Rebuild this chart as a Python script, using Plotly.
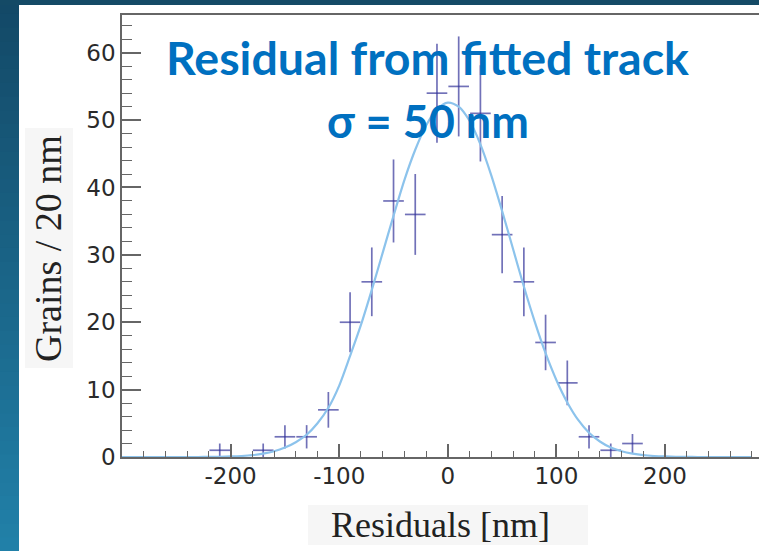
import plotly.graph_objects as go

# ---------------- data ----------------
bin_centers = [-210, -170, -150, -130, -110, -90, -70, -50, -30, -10,
               10, 30, 50, 70, 90, 110, 130, 150, 170]
counts = [1, 1, 3, 3, 7, 20, 26, 38, 36, 54,
          55, 51, 33, 26, 17, 11, 3, 1, 2]
count_errors = [1.0, 1.0, 1.73, 1.73, 2.65, 4.47, 5.10, 6.16, 6.0, 7.35,
                7.42, 7.14, 5.74, 5.10, 4.12, 3.32, 1.73, 1.0, 1.41]
bin_half_width = [9.5] * len(bin_centers)

fit_x = list(range(-300, 290, 10))
fit_y = [0, 0, 0, 0, 0, 0, 0, 0,
         0.02, 0.04, 0.08, 0.15, 0.27, 0.5, 0.85, 1.4, 2.2, 3.3, 5.0, 7.3,
         10.6, 15.0, 19.6, 24.8, 30.3, 35.8, 41.1, 45.6, 49.2, 51.6,
         52.6,
         52.0, 49.9, 46.4, 41.8, 36.5, 30.9, 25.3, 20.1, 15.4, 11.4,
         8.1, 5.5, 3.6, 2.3, 1.4, 0.85, 0.5, 0.27, 0.15, 0.08,
         0.04, 0.02, 0, 0, 0, 0, 0, 0]

x_ticks = [-200, -100, 0, 100, 200]
y_ticks = [0, 10, 20, 30, 40, 50, 60]

title_line1 = "Residual from fitted track"
title_line2 = "σ = 50 nm"
x_title = "Residuals [nm]"
y_title = "Grains / 20 nm"

# ---------------- layout geometry (pixels) ----------------
W, H = 759, 551
L, R, T, B = 122, 0, 15, 94
PW, PH = W - L - R, H - T - B


def px(xp):
    return (xp - L) / PW


def py(yp):
    return (H - B - yp) / PH


fig = go.Figure()

bar_col = "rgba(45,45,150,0.68)"
fig.add_trace(go.Scatter(
    x=bin_centers, y=counts, mode="markers",
    marker=dict(size=0.01, color="rgba(0,0,0,0)"),
    error_y=dict(type="data", array=count_errors, visible=True,
                 color=bar_col, thickness=1.7, width=0),
    error_x=dict(type="data", array=bin_half_width, visible=True,
                 color=bar_col, thickness=1.7, width=0),
    showlegend=False, hoverinfo="skip"))

fig.add_trace(go.Scatter(
    x=fit_x, y=fit_y, mode="lines",
    line=dict(color="#8cc3ec", width=2.2, shape="spline", smoothing=0.8),
    showlegend=False, hoverinfo="skip"))

# slide background (dark blue gradient strips) and label boxes
shapes = []
top_c = (19, 73, 103)
bot_c = (33, 128, 168)
n = 40
for i in range(n):
    t = i / (n - 1)
    c = tuple(int(round(top_c[k] + (bot_c[k] - top_c[k]) * t)) for k in range(3))
    y0p = H * i / n
    y1p = H * (i + 1) / n + 1
    shapes.append(dict(type="rect", xref="paper", yref="paper",
                       x0=px(-2), x1=px(19), y0=py(y1p), y1=py(y0p),
                       fillcolor="rgb(%d,%d,%d)" % c, line=dict(width=0), layer="below"))
shapes.append(dict(type="rect", xref="paper", yref="paper",
                   x0=px(-2), x1=px(W + 2), y0=py(5), y1=py(-2),
                   fillcolor="rgb(20,74,102)", line=dict(width=0), layer="below"))
box_col = "#f6f6f6"
shapes.append(dict(type="rect", xref="paper", yref="paper",
                   x0=px(308), x1=px(588), y0=py(545), y1=py(505),
                   fillcolor=box_col, line=dict(width=0), layer="below"))
shapes.append(dict(type="rect", xref="paper", yref="paper",
                   x0=px(25), x1=px(73), y0=py(368), y1=py(128),
                   fillcolor=box_col, line=dict(width=0), layer="below"))

axis_col = "#666666"
tick_font = dict(family="DejaVu Sans", size=23, color="#2a2a2a")

fig.update_layout(
    width=W, height=H,
    margin=dict(l=L, r=R, t=T, b=B),
    paper_bgcolor="white", plot_bgcolor="white",
    shapes=shapes,
    xaxis=dict(range=[-300, 286.5], showgrid=False, zeroline=False,
               showline=True, linecolor=axis_col, linewidth=1.5, mirror=True,
               ticks="inside", ticklen=13, tickwidth=1.5, tickcolor=axis_col,
               tickvals=x_ticks, ticktext=[str(v) for v in x_ticks],
               tickfont=tick_font, ticklabelstandoff=-2,
               minor=dict(ticks="inside", ticklen=6, tickwidth=1.2, tickcolor=axis_col,
                          dtick=20, tick0=0, showgrid=False)),
    yaxis=dict(range=[0, 65.6], showgrid=False, zeroline=False,
               showline=True, linecolor=axis_col, linewidth=1.5,
               ticks="inside", ticklen=19, tickwidth=1.5, tickcolor=axis_col,
               tickvals=y_ticks, ticktext=[str(v) for v in y_ticks],
               tickfont=tick_font,
               minor=dict(ticks="inside", ticklen=10, tickwidth=1.2, tickcolor=axis_col,
                          dtick=2, tick0=0, showgrid=False)),
)

annotations = [
    dict(text="<b>%s</b>" % title_line1, x=px(427.5), y=py(57), xref="paper", yref="paper",
         showarrow=False, xanchor="center", yanchor="middle",
         font=dict(family="Lato", size=46.5, color="#0070C0")),
    dict(text="<b>%s</b>" % title_line2, x=px(427.7), y=py(121), xref="paper", yref="paper",
         showarrow=False, xanchor="center", yanchor="middle",
         font=dict(family="Lato", size=45, color="#0070C0")),
    dict(text=x_title, x=px(440), y=py(525), xref="paper", yref="paper",
         showarrow=False, xanchor="center", yanchor="middle",
         font=dict(family="Liberation Serif", size=36, color="#222222")),
    dict(text=y_title, x=px(48), y=py(249), xref="paper", yref="paper",
         showarrow=False, xanchor="center", yanchor="middle", textangle=-90,
         font=dict(family="Liberation Serif", size=38, color="#222222")),
]
fig.update_layout(annotations=annotations)

fig.write_html("out.html", config={"displayModeBar": False},
               post_script="document.body.style.margin='0';document.body.style.padding='0';")
